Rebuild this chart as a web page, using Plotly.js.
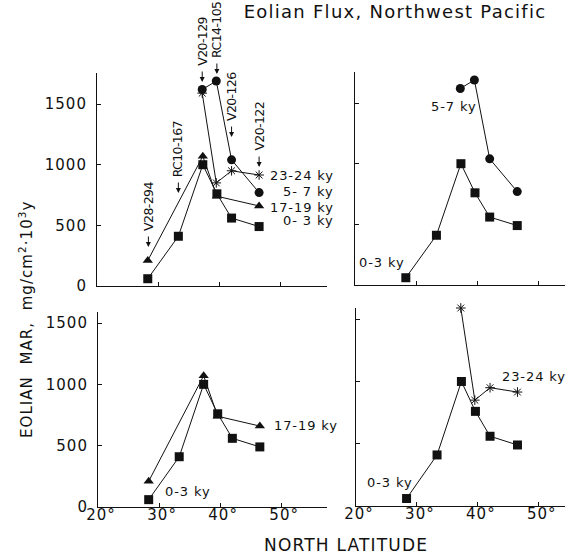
<!DOCTYPE html>
<html>
<head>
<meta charset="utf-8">
<script src="https://cdn.plot.ly/plotly-3.0.1.min.js"></script>
<style>
html,body{margin:0;padding:0;background:#fff;}
#chart{width:569px;height:554px;}
svg text{letter-spacing:0.07em;}
</style>
</head>
<body>
<div id="chart"></div>
<script>
// ---- data ----
const lat03 = [28.3, 33.3, 37.3, 39.6, 42.0, 46.5];
const mar03 = [60, 410, 1000, 760, 560, 490];
const lat1719 = [28.3, 37.3, 39.6, 46.5];
const mar1719 = [210, 1070, 740, 660];
const lat57 = [37.2, 39.5, 42.0, 46.5];
const mar57 = [1620, 1690, 1040, 770];
const lat2324 = [37.2, 39.5, 42.0, 46.5];
const mar2324 = [1590, 850, 950, 915];

const coreNames = ['V28-294', 'RC10-167', 'V20-129', 'RC14-105', 'V20-126', 'V20-122'];
const coreLat = [28.4, 33.3, 37.2, 39.6, 42.0, 46.5];
const coreArrowTipPx = [247, 193, 82, 74, 137, 167];

const yTicks = [0, 500, 1000, 1500];
const yTickText = ['0', '500', '1000', '1500'];
const xTicks = [20, 30, 40, 50];
const xTickText = ['20°', '30°', '40°', '50°'];

const W = 569, H = 554;
const FONT = 'DejaVu Sans, Arial, sans-serif';
const INK = '#111';
const NB = '\u00A0';

function series(x, y, sym, xa, ya) {
  const isStar = sym === 'asterisk-open';
  return {
    x: x, y: y, xaxis: xa, yaxis: ya, type: 'scatter', mode: 'lines+markers',
    cliponaxis: false, showlegend: false,
    line: {color: INK, width: 1},
    marker: {symbol: sym, size: isStar ? 8 : 9, color: INK,
             line: {color: INK, width: isStar ? 1 : 0}}
  };
}

const traces = [
  series(lat03, mar03, 'square', 'x', 'y'),
  series(lat1719, mar1719, 'triangle-up', 'x', 'y'),
  series(lat2324, mar2324, 'asterisk-open', 'x', 'y'),
  series(lat57, mar57, 'circle', 'x', 'y'),
  series(lat03, mar03, 'square', 'x2', 'y2'),
  series(lat57, mar57, 'circle', 'x2', 'y2'),
  series(lat03, mar03, 'square', 'x3', 'y3'),
  series(lat1719, mar1719, 'triangle-up', 'x3', 'y3'),
  series(lat03, mar03, 'square', 'x4', 'y4'),
  series(lat2324, mar2324, 'asterisk-open', 'x4', 'y4'),
];

function xax(dom, range, labels, anchor) {
  return {
    domain: dom, range: range, anchor: anchor,
    showline: true, linecolor: INK, linewidth: 1, showgrid: false, zeroline: false,
    ticks: 'inside', ticklen: 4, tickcolor: INK, tickwidth: 1,
    tickvals: xTicks, ticktext: xTickText, showticklabels: labels,
    tickfont: {family: FONT, size: 15, color: INK}, ticklabelshift: 3, ticklabelstandoff: -6
  };
}
function yax(dom, range, labels, anchor) {
  return {
    domain: dom, range: range, anchor: anchor,
    showline: true, linecolor: INK, linewidth: 1, showgrid: false, zeroline: false,
    ticks: 'inside', ticklen: 4, tickcolor: INK, tickwidth: 1,
    tickvals: yTicks, ticktext: yTickText, showticklabels: labels,
    tickfont: {family: FONT, size: 15, color: INK}, ticklabelstandoff: 6
  };
}

const annotations = [];
// core labels with down arrows (top-left panel)
coreNames.forEach((n, i) => {
  const tip = coreArrowTipPx[i];
  annotations.push({
    text: '', x: coreLat[i], xref: 'x', y: 1 - tip / H, yref: 'paper',
    showarrow: true, ax: 0, ay: -12, arrowhead: 2, arrowsize: 1, arrowwidth: 1, arrowcolor: INK
  });
  annotations.push({
    text: '<span style="letter-spacing:-0.6px">' + n + '</span>',
    x: coreLat[i], xref: 'x', y: 1 - (tip - 14) / H, yref: 'paper',
    xanchor: 'center', yanchor: 'bottom', textangle: -90, showarrow: false,
    font: {family: FONT, size: 12.5, color: INK}
  });
});
function lab(text, x, xref, y, yref, xanchor) {
  annotations.push({text: text, x: x, xref: xref, y: y, yref: yref, xanchor: xanchor,
    yanchor: 'middle', showarrow: false, font: {family: FONT, size: 13, color: INK}});
}
// top-left series labels
lab('23-24 ky', 336 / W, 'paper', 909, 'y', 'right');
lab('5- 7 ky', 336 / W, 'paper', 777, 'y', 'right');
lab('17-19 ky', 336 / W, 'paper', 645, 'y', 'right');
lab('0- 3 ky', 336 / W, 'paper', 544, 'y', 'right');
// top-right
lab('5-7 ky', 36.2, 'x2', 1475, 'y2', 'center');
lab('0-3 ky', 24.4, 'x2', 187, 'y2', 'center');
// bottom-left
lab('17-19 ky', 48.5, 'x3', 664, 'y3', 'left');
lab('0-3 ky', 30.7, 'x3', 123, 'y3', 'left');
// bottom-right
lab('23-24 ky', 43.6, 'x4', 1043, 'y4', 'left');
lab('0-3 ky', 21.5, 'x4', 187, 'y4', 'left');
// axis titles
annotations.push({text: 'NORTH' + NB + 'LATITUDE', x: 346 / W, xref: 'paper', y: 1 - 545 / H, yref: 'paper',
  xanchor: 'center', yanchor: 'middle', showarrow: false, font: {family: FONT, size: 17, color: INK}});
annotations.push({text: 'EOLIAN' + NB + NB + 'MAR,' + NB + NB + 'mg/cm<sup>2</sup>·10<sup>3</sup>y',
  x: 26 / W, xref: 'paper', y: 1 - 320 / H, yref: 'paper', xanchor: 'center', yanchor: 'middle',
  textangle: -90, showarrow: false, font: {family: FONT, size: 15, color: INK}});

const layout = {
  width: W, height: H, margin: {l: 0, r: 0, t: 0, b: 0},
  paper_bgcolor: '#fff', plot_bgcolor: 'rgba(0,0,0,0)', showlegend: false,
  title: {text: 'Eolian Flux, Northwest Pacific', x: 395 / W, xanchor: 'center', y: 1 - 12 / H, yanchor: 'middle',
          font: {family: FONT, size: 18, color: INK}},
  xaxis: xax([97 / W, 327 / W], [20, 57.6], false, 'y'),
  yaxis: yax([1 - 286 / H, 1 - 73 / H], [0, 1756], true, 'x'),
  xaxis2: xax([355 / W, 565 / W], [20, 54.3], false, 'y2'),
  yaxis2: yax([1 - 285 / H, 1 - 72 / H], [0, 1756], false, 'x2'),
  xaxis3: xax([98 / W, 327 / W], [20, 57.5], true, 'y3'),
  yaxis3: yax([1 - 507 / H, 1 - 312 / H], [0, 1590], true, 'x3'),
  xaxis4: xax([356 / W, 565 / W], [20, 54.3], true, 'y4'),
  yaxis4: yax([1 - 506 / H, 1 - 308 / H], [0, 1590], false, 'x4'),
  annotations: annotations
};

Plotly.newPlot('chart', traces, layout, {staticPlot: true, displayModeBar: false});
</script>
</body>
</html>
